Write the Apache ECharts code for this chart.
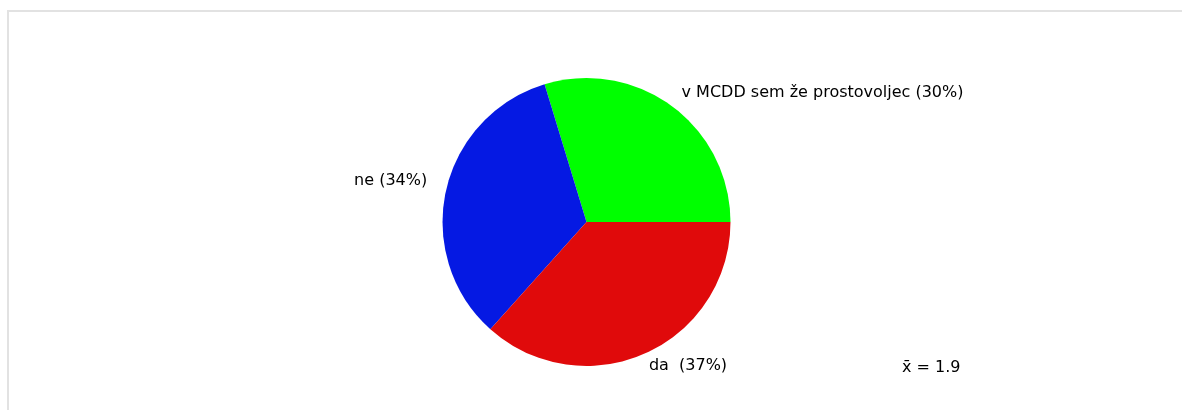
<!DOCTYPE html>
<html>
<head>
<meta charset="utf-8">
<script src="https://cdn.jsdelivr.net/npm/echarts@6/dist/echarts.min.js"></script>
<style>
html,body{margin:0;padding:0;background:#fff;}
#c{width:1182px;height:410px;}
</style>
</head>
<body>
<div id="c"></div>
<script>
const categories = ['v MCDD sem že prostovoljec', 'ne', 'da '];
const values = [30, 34, 37];
const percentLabels = [30, 34, 37];
const colors = ['#00ff00', '#0519e3', '#e00a0b'];
const meanLabel = 'x\u0304 = 1.9';

const chart = echarts.init(document.getElementById('c'), null, {renderer: 'canvas'});
const font = '"DejaVu Sans", Verdana, sans-serif';
const labelShift = [[-4, -2], [0, -7], [-7, 0]];
chart.setOption({
  animation: false,
  backgroundColor: '#fff',
  graphic: [
    {type: 'line', shape: {x1: 7, y1: 11, x2: 1182, y2: 11}, style: {stroke: '#e2e2e2', lineWidth: 2}, silent: true},
    {type: 'line', shape: {x1: 8, y1: 11, x2: 8, y2: 410}, style: {stroke: '#e2e2e2', lineWidth: 2}, silent: true},
    {type: 'text', left: 902, top: 360, style: {text: meanLabel, font: '16px ' + font, fill: '#000'}}
  ],
  series: [{
    type: 'pie',
    center: [586.5, 222],
    radius: [0, 144],
    startAngle: 0,
    clockwise: false,
    avoidLabelOverlap: false,
    itemStyle: {borderWidth: 0},
    emphasis: {disabled: true},
    label: {
      show: true,
      position: 'outside',
      color: '#000',
      fontSize: 16,
      fontFamily: font,
      formatter: p => categories[p.dataIndex] + ' (' + percentLabels[p.dataIndex] + '%)'
    },
    labelLine: {show: false, length: 14, length2: 0},
    labelLayout: p => ({dx: labelShift[p.dataIndex][0], dy: labelShift[p.dataIndex][1]}),
    data: categories.map((c, i) => ({name: c, value: values[i], itemStyle: {color: colors[i]}}))
  }]
});
</script>
</body>
</html>
